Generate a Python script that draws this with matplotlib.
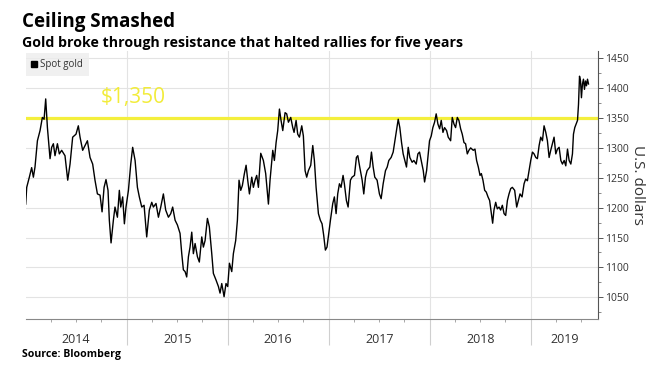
import matplotlib
matplotlib.use("Agg")
import matplotlib.pyplot as plt
from matplotlib.lines import Line2D
from matplotlib.ticker import MultipleLocator, FixedLocator, NullFormatter

# ---------------- data ----------------
year_frac = [
    2014.000, 2014.010, 2014.036, 2014.059, 2014.076, 2014.092, 2014.116, 2014.142, 2014.165, 2014.182,
    2014.198, 2014.215, 2014.241, 2014.257, 2014.274, 2014.290, 2014.314, 2014.333, 2014.356, 2014.389,
    2014.416, 2014.439, 2014.465, 2014.498, 2014.521, 2014.538, 2014.564, 2014.587, 2014.611, 2014.637,
    2014.663, 2014.686, 2014.710, 2014.736, 2014.756, 2014.776, 2014.795, 2014.815, 2014.828, 2014.845,
    2014.868, 2014.884, 2014.908, 2014.927, 2014.941, 2014.960, 2014.977, 2014.993, 2015.017, 2015.040,
    2015.059, 2015.083, 2015.106, 2015.125, 2015.149, 2015.172, 2015.198, 2015.224, 2015.248, 2015.264,
    2015.290, 2015.314, 2015.337, 2015.363, 2015.386, 2015.413, 2015.436, 2015.455, 2015.479, 2015.502,
    2015.528, 2015.545, 2015.561, 2015.578, 2015.594, 2015.611, 2015.627, 2015.644, 2015.660, 2015.677,
    2015.700, 2015.719, 2015.743, 2015.759, 2015.776, 2015.799, 2015.818, 2015.842, 2015.858, 2015.884,
    2015.908, 2015.924, 2015.941, 2015.964, 2015.983, 2016.000, 2016.017, 2016.040, 2016.056, 2016.079,
    2016.096, 2016.112, 2016.129, 2016.145, 2016.165, 2016.182, 2016.198, 2016.215, 2016.238, 2016.254,
    2016.271, 2016.287, 2016.304, 2016.327, 2016.353, 2016.376, 2016.403, 2016.419, 2016.446, 2016.462,
    2016.479, 2016.495, 2016.512, 2016.528, 2016.545, 2016.568, 2016.584, 2016.601, 2016.624, 2016.644,
    2016.657, 2016.677, 2016.693, 2016.710, 2016.733, 2016.749, 2016.766, 2016.782, 2016.799, 2016.822,
    2016.842, 2016.858, 2016.875, 2016.898, 2016.917, 2016.934, 2016.950, 2016.967, 2016.983, 2017.000,
    2017.017, 2017.040, 2017.056, 2017.073, 2017.089, 2017.106, 2017.122, 2017.142, 2017.155, 2017.175,
    2017.192, 2017.215, 2017.231, 2017.255, 2017.274, 2017.288, 2017.307, 2017.331, 2017.347, 2017.364,
    2017.380, 2017.407, 2017.423, 2017.440, 2017.456, 2017.479, 2017.502, 2017.519, 2017.539, 2017.562,
    2017.579, 2017.595, 2017.618, 2017.638, 2017.655, 2017.671, 2017.688, 2017.704, 2017.721, 2017.737,
    2017.754, 2017.770, 2017.787, 2017.803, 2017.826, 2017.843, 2017.866, 2017.883, 2017.899, 2017.916,
    2017.936, 2017.949, 2017.969, 2017.985, 2017.998, 2018.015, 2018.031, 2018.048, 2018.064, 2018.081,
    2018.098, 2018.114, 2018.131, 2018.147, 2018.167, 2018.183, 2018.207, 2018.223, 2018.240, 2018.256,
    2018.273, 2018.289, 2018.306, 2018.322, 2018.339, 2018.355, 2018.372, 2018.388, 2018.405, 2018.431,
    2018.448, 2018.464, 2018.481, 2018.498, 2018.511, 2018.527, 2018.544, 2018.560, 2018.577, 2018.593,
    2018.610, 2018.623, 2018.636, 2018.653, 2018.669, 2018.686, 2018.702, 2018.719, 2018.736, 2018.752,
    2018.769, 2018.785, 2018.802, 2018.818, 2018.841, 2018.861, 2018.878, 2018.894, 2018.914, 2018.934,
    2018.950, 2018.967, 2018.983, 2019.000, 2019.017, 2019.033, 2019.050, 2019.066, 2019.083, 2019.099,
    2019.116, 2019.132, 2019.149, 2019.165, 2019.182, 2019.198, 2019.215, 2019.231, 2019.248, 2019.264,
    2019.281, 2019.298, 2019.314, 2019.331, 2019.347, 2019.364, 2019.380, 2019.397, 2019.413, 2019.423,
    2019.436, 2019.450, 2019.463, 2019.473, 2019.483, 2019.493, 2019.502, 2019.512, 2019.522, 2019.532,
    2019.542, 2019.552, 2019.562, 2019.572,
]
spot_gold = [
    1206, 1234, 1251, 1267, 1251, 1268, 1312, 1329, 1351, 1348,
    1382, 1334, 1282, 1301, 1307, 1287, 1307, 1290, 1296, 1287,
    1246, 1273, 1318, 1323, 1337, 1318, 1296, 1304, 1312, 1284,
    1273, 1246, 1223, 1221, 1193, 1234, 1247, 1229, 1179, 1141,
    1179, 1201, 1184, 1229, 1201, 1218, 1173, 1201, 1229, 1273,
    1301, 1279, 1234, 1218, 1201, 1204, 1151, 1196, 1209, 1201,
    1207, 1184, 1201, 1223, 1196, 1184, 1190, 1201, 1179, 1171,
    1157, 1123, 1096, 1093, 1084, 1118, 1134, 1159, 1123, 1140,
    1118, 1109, 1151, 1134, 1145, 1182, 1168, 1123, 1090, 1079,
    1068, 1057, 1073, 1051, 1073, 1068, 1107, 1093, 1123, 1145,
    1179, 1246, 1229, 1237, 1257, 1271, 1246, 1223, 1251, 1234,
    1246, 1254, 1234, 1291, 1279, 1257, 1206, 1246, 1296, 1279,
    1309, 1329, 1365, 1346, 1329, 1359, 1357, 1343, 1351, 1334,
    1326, 1346, 1323, 1318, 1337, 1320, 1262, 1251, 1262, 1271,
    1304, 1279, 1234, 1190, 1179, 1173, 1154, 1129, 1134, 1157,
    1179, 1207, 1218, 1190, 1223, 1240, 1234, 1254, 1240, 1212,
    1201, 1246, 1251, 1254, 1284, 1287, 1268, 1246, 1223, 1251,
    1262, 1268, 1293, 1268, 1251, 1246, 1223, 1215, 1240, 1262,
    1268, 1279, 1284, 1293, 1312, 1329, 1348, 1334, 1309, 1290,
    1279, 1268, 1301, 1284, 1276, 1279, 1273, 1290, 1293, 1279,
    1262, 1243, 1262, 1290, 1312, 1320, 1334, 1343, 1357, 1340,
    1332, 1346, 1326, 1334, 1329, 1318, 1312, 1351, 1340, 1334,
    1351, 1346, 1332, 1323, 1309, 1307, 1290, 1296, 1300, 1296,
    1298, 1279, 1268, 1254, 1257, 1246, 1229, 1226, 1218, 1212,
    1190, 1174, 1196, 1209, 1198, 1201, 1196, 1204, 1190, 1187,
    1212, 1223, 1232, 1234, 1229, 1201, 1212, 1223, 1218, 1240,
    1248, 1245, 1262, 1279, 1293, 1290, 1284, 1282, 1304, 1318,
    1312, 1337, 1326, 1312, 1284, 1296, 1307, 1318, 1290, 1298,
    1301, 1279, 1273, 1279, 1270, 1298, 1279, 1273, 1290, 1323,
    1334, 1340, 1346, 1373, 1420, 1412, 1384, 1407, 1415, 1398,
    1412, 1404, 1415, 1407,
]
years = [2014, 2015, 2016, 2017, 2018, 2019]
resistance = 1350
resistance_label = "$1,350"
series_name = "Spot gold"
title = "Ceiling Smashed"
subtitle = "Gold broke through resistance that halted rallies for five years"
source = "Source: Bloomberg"
y_label = "U.S. dollars"

# ---------------- styling ----------------
FONT = "Open Sans"
plt.rcParams["font.family"] = [FONT, "DejaVu Sans"]

W, H = 651, 368
fig = plt.figure(figsize=(W / 100, H / 100), dpi=100)
ax = fig.add_axes([25.7 / W, 1 - 318.5 / H, (597.7 - 25.7) / W, (318.5 - 51) / H])

xmax = 2019.663
ax.set_xlim(2014.0, xmax)
ax.set_ylim(1014.5, 1462.2)

# grid
grid_c = "#e3e3e3"
for yv in range(1050, 1451, 50):
    ax.axhline(yv, color=grid_c, lw=0.8, zorder=0)
for yr in years[1:]:
    ax.axvline(yr, color=grid_c, lw=0.8, zorder=0)

# resistance line
ax.axhline(resistance, color="#f4ef3c", lw=2.3, zorder=1)
ax.text(2014.74, 1375, resistance_label, color="#f2ec3a", fontsize=15,
        ha="left", va="baseline", zorder=3)

# series
ax.plot(year_frac, spot_gold, color="black", lw=1.0, zorder=2)

# spines
for s in ["left", "top"]:
    ax.spines[s].set_visible(False)
ax.spines["right"].set_color("#555555")
ax.spines["bottom"].set_color("#888888")
ax.spines["right"].set_linewidth(0.8)
ax.spines["bottom"].set_linewidth(0.8)

# y axis on right
ax.yaxis.tick_right()
ax.yaxis.set_major_locator(MultipleLocator(50))
ax.yaxis.set_minor_locator(MultipleLocator(25))
ax.tick_params(axis="y", which="major", direction="out", length=3.5, width=0.7,
               colors="#555555", labelsize=7.5, labelcolor="#333333", pad=1.5)
ax.tick_params(axis="y", which="minor", direction="out", length=2, width=0.6,
               colors="#777777")
ax.yaxis.set_label_position("right")
ax.set_ylabel(y_label, rotation=-90, fontsize=11, color="#333333", labelpad=12)

# x axis: year separators as long ticks, quarterly minor ticks
ax.xaxis.set_major_locator(FixedLocator(years[1:]))
ax.xaxis.set_major_formatter(NullFormatter())
quarters = [y + q / 4 for y in years for q in (1, 2, 3) if y + q / 4 < xmax]
ax.xaxis.set_minor_locator(FixedLocator(quarters))
ax.tick_params(axis="x", which="major", direction="out", length=19, width=0.8,
               colors="#cfcfcf")
ax.tick_params(axis="x", which="minor", direction="out", length=2.5, width=0.6,
               colors="#999999")

for yr in years:
    center = (yr + min(yr + 1, xmax)) / 2
    ax.text(center, -0.077, str(yr), transform=ax.get_xaxis_transform(),
            ha="center", va="center", fontsize=9, color="#333333")

# legend
handle = Line2D([], [], marker="s", color="black", linestyle="none", markersize=4.5)
leg = ax.legend([handle], [series_name], loc="upper left", bbox_to_anchor=(0.0, 0.992),
                frameon=True, fancybox=False, fontsize=7, handlelength=0.6,
                handletextpad=0.25, borderpad=0.6, borderaxespad=0.0)
leg.get_frame().set_facecolor("#ededed")
leg.get_frame().set_edgecolor("none")
for t in leg.get_texts():
    t.set_color("#333333")

# titles
fig.text(22 / W, 1 - 27 / H, title, fontsize=13.5, fontweight="bold", ha="left",
         va="baseline", color="black")
fig.text(22 / W, 1 - 47 / H, subtitle, fontsize=10.2, fontweight="bold", ha="left",
         va="baseline", color="black")
fig.text(22 / W, 1 - 357 / H, source, fontsize=7.6, fontweight="bold", ha="left",
         va="baseline", color="black")

fig.savefig("out.png", dpi=100)
